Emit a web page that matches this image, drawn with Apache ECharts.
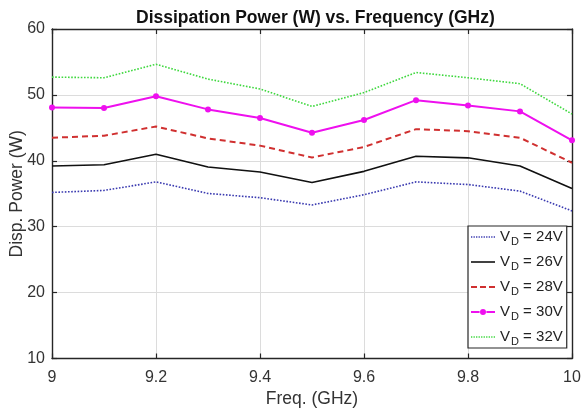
<!DOCTYPE html>
<html><head><meta charset="utf-8">
<script src="https://cdn.jsdelivr.net/npm/echarts@6/dist/echarts.min.js"></script>
<style>html,body{margin:0;padding:0;background:#fff}#c{width:582px;height:412px}</style>
</head><body><div id="c"></div>
<script>
const freq = [9.0, 9.1, 9.2, 9.3, 9.4, 9.5, 9.6, 9.7, 9.8, 9.9, 10.0];
const v24 = [35.2, 35.5, 36.8, 35.05, 34.4, 33.3, 34.85, 36.8, 36.4, 35.4, 32.4];
const v26 = [39.2, 39.4, 41.0, 39.05, 38.3, 36.7, 38.4, 40.7, 40.45, 39.2, 35.8];
const v28 = [43.5, 43.8, 45.2, 43.4, 42.3, 40.5, 42.1, 44.8, 44.5, 43.5, 39.7];
const v30 = [48.1, 48.0, 49.8, 47.8, 46.5, 44.25, 46.2, 49.2, 48.4, 47.5, 43.1];
const v32 = [52.7, 52.6, 54.65, 52.4, 50.9, 48.25, 50.35, 53.4, 52.6, 51.7, 47.1];
const seriesNames = ['24V', '26V', '28V', '30V', '32V'];
const titleText = 'Dissipation Power (W) vs. Frequency (GHz)';
const xName = 'Freq. (GHz)';
const yName = 'Disp. Power (W)';

const pair = (ys) => freq.map((x, i) => [x, ys[i]]);
const font = 'Liberation Sans, Arial, sans-serif';
const axisColor = '#262626';
const chart = echarts.init(document.getElementById('c'), null, {renderer: 'canvas'});

// legend icons drawn as small filled paths (line samples)
function dotsPath(step, w, h) {
  let p = '';
  for (let x = 0; x + w <= 24.01; x += step) p += 'M' + x + ',0h' + w + 'v' + h + 'h-' + w + 'z';
  return 'path://' + p;
}
const iconSolid = 'path://M0,0h24v1.6h-24z';
const iconDashed = 'path://M0,0h6v1.9h-6zM9,0h6v1.9h-6zM18,0h6v1.9h-6z';
const iconDotted = dotsPath(2.5, 1.3, 1.5);
const iconMarker = 'path://M0,2.1h8.6v1.8h-8.6zM15.4,2.1h8.6v1.8h-8.6zM9,3a3,3 0 1,0 6,0a3,3 0 1,0 -6,0z';

const styles = [
  {color: '#3a3ab0', type: 'dotted', width: 1.6, symbol: 'none', icon: iconDotted},
  {color: '#111111', type: 'solid', width: 1.6, symbol: 'none', icon: iconSolid},
  {color: '#d03030', type: [6, 4], width: 2, symbol: 'none', icon: iconDashed},
  {color: '#ee10ee', type: 'solid', width: 2, symbol: 'circle', icon: iconMarker},
  {color: '#3fd83f', type: 'dotted', width: 1.6, symbol: 'none', icon: iconDotted}
];
const vals = [v24, v26, v28, v30, v32];
const series = seriesNames.map((n, k) => ({
  name: n, type: 'line', data: pair(vals[k]),
  symbol: styles[k].symbol, symbolSize: 6, showSymbol: styles[k].symbol !== 'none',
  lineStyle: {color: styles[k].color, type: styles[k].type, width: styles[k].width},
  itemStyle: {color: styles[k].color},
  animation: false, z: 3
}));
chart.setOption({
  animation: false,
  title: {text: titleText, left: 131, top: 4,
    textStyle: {fontFamily: font, fontSize: 17.5, fontWeight: 'bold', color: '#111'}},
  grid: {left: 52, right: 10, top: 29, bottom: 53.5, show: false, outerBoundsMode: 'none', containLabel: false},
  legend: {
    orient: 'vertical', left: 468, top: 226, width: 96,
    data: seriesNames.map((n, k) => ({name: n, icon: styles[k].icon})),
    backgroundColor: '#fff', borderColor: axisColor, borderWidth: 1.2, borderRadius: 0,
    padding: [1, 4, 1, 3], itemWidth: 24, itemHeight: 6, itemGap: 5,
    symbolKeepAspect: true,
    formatter: (n) => '{a|V}{b|D}{a| = ' + n + '}',
    textStyle: {fontFamily: font, color: '#222',
      rich: {a: {fontSize: 15, fontFamily: font, color: '#222', lineHeight: 20},
             b: {fontSize: 11, fontFamily: font, color: '#222', padding: [9, 0, 0, 1], lineHeight: 20}}}
  },
  xAxis: [{
    type: 'value', min: 9, max: 10, interval: 0.2,
    name: xName, nameLocation: 'middle', nameGap: 32, nameMoveOverlap: false,
    nameTextStyle: {fontFamily: font, fontSize: 17.5, color: '#333'},
    axisLine: {show: true, onZero: false, lineStyle: {color: axisColor, width: 1.4}},
    axisTick: {show: true, inside: true, length: 5, lineStyle: {color: axisColor, width: 1.2}},
    axisLabel: {fontFamily: font, fontSize: 16, color: '#333', margin: 11,
      formatter: (v) => String(Math.round(v * 10) / 10)},
    splitLine: {show: true, lineStyle: {color: '#dcdcdc', width: 1}}
  }, {
    type: 'value', min: 9, max: 10, interval: 0.2, position: 'top',
    axisLine: {show: true, onZero: false, lineStyle: {color: axisColor, width: 1.4}},
    axisTick: {show: true, inside: true, length: 5, lineStyle: {color: axisColor, width: 1.2}},
    axisLabel: {show: false}, splitLine: {show: false}
  }],
  yAxis: [{
    type: 'value', min: 10, max: 60, interval: 10,
    name: yName, nameLocation: 'middle', nameGap: 26, nameMoveOverlap: false,
    nameTextStyle: {fontFamily: font, fontSize: 17.5, color: '#333'},
    axisLine: {show: true, onZero: false, lineStyle: {color: axisColor, width: 1.4}},
    axisTick: {show: true, inside: true, length: 5, lineStyle: {color: axisColor, width: 1.2}},
    axisLabel: {fontFamily: font, fontSize: 16, color: '#333', margin: 7},
    splitLine: {show: true, lineStyle: {color: '#dcdcdc', width: 1}}
  }, {
    type: 'value', min: 10, max: 60, interval: 10, position: 'right',
    axisLine: {show: true, onZero: false, lineStyle: {color: axisColor, width: 1.4}},
    axisTick: {show: true, inside: true, length: 5, lineStyle: {color: axisColor, width: 1.2}},
    axisLabel: {show: false}, splitLine: {show: false}
  }],
  series: series
});
</script></body></html>
